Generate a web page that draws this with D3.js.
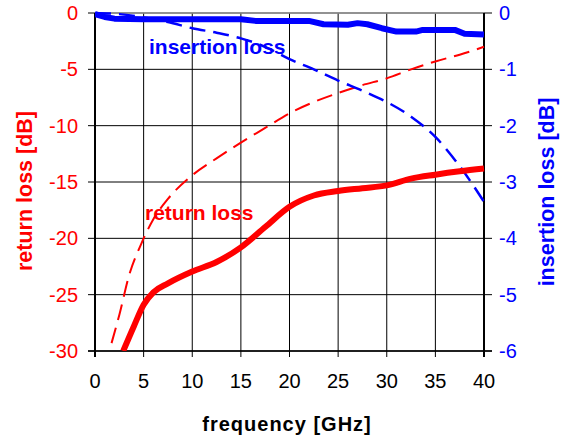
<!DOCTYPE html>
<html><head><meta charset="utf-8">
<script src="https://cdn.jsdelivr.net/npm/d3@7"></script>
<style>body{margin:0;background:#fff}svg{display:block}text{font-family:"Liberation Sans",Arial,sans-serif}</style>
</head><body><svg id="c" width="563" height="442"></svg>
<script>
const xTicks=[0,5,10,15,20,25,30,35,40];
const leftTicks=[0,-5,-10,-15,-20,-25,-30];
const rightTicks=[0,-1,-2,-3,-4,-5,-6];
const rlSolidF=[2.9,4,5,6,7.5,10,12.5,15,17.5,20,22.5,25,27.5,30,32.5,35,37.5,40];
const rlSolidV=[-30,-27.8,-25.9,-24.8,-24,-22.95,-22.1,-20.8,-19,-17.2,-16.2,-15.8,-15.55,-15.3,-14.7,-14.35,-14.05,-13.8];
const rlDashF=[1.7,2.5,3.5,4.8,6,7.5,10,12.5,15,17.5,20,22.5,25,27.5,30,32.5,35,37.5,40];
const rlDashV=[-29.3,-26.8,-23.3,-20.4,-18.3,-16.5,-14.4,-12.9,-11.5,-10.2,-8.9,-7.9,-7.1,-6.4,-5.8,-5.0,-4.3,-3.7,-3.0];
const ilSolidF=[0,1,2,5,10,15,16.5,20,22,23.5,26,27,28,29.5,31,33,33.7,37,38,40];
const ilSolidV=[-0.02,-0.07,-0.1,-0.11,-0.11,-0.11,-0.14,-0.14,-0.14,-0.2,-0.21,-0.18,-0.2,-0.27,-0.33,-0.33,-0.3,-0.3,-0.37,-0.38];
const ilDashF=[0,2.5,5,7.5,10,12.5,15,17.5,20,22.5,25,27.5,30,32.5,35,37.5,40];
const ilDashV=[0,-0.02,-0.08,-0.16,-0.27,-0.35,-0.45,-0.6,-0.82,-1.0,-1.2,-1.38,-1.58,-1.84,-2.2,-2.72,-3.35];

const svg=d3.select("#c");
const L=95,R=484,T=13,B=351;
const x=d3.scaleLinear().domain([0,40]).range([L,R]);
const yL=d3.scaleLinear().domain([-30,0]).range([B,T]);
const yR=d3.scaleLinear().domain([-6,0]).range([B,T]);
const RED="#ff0000",BLUE="#0000ff";

const g=svg.append("g");
// grid
g.selectAll(".vg").data(xTicks).join("line").attr("x1",d=>x(d)).attr("x2",d=>x(d)).attr("y1",T).attr("y2",B+6).attr("stroke","#000").attr("stroke-width",1);
g.selectAll(".hg").data(leftTicks).join("line").attr("x1",L-7).attr("x2",R+8).attr("y1",d=>yL(d)).attr("y2",d=>yL(d)).attr("stroke","#000").attr("stroke-width",1);
g.append("line").attr("x1",L).attr("x2",R).attr("y1",T).attr("y2",T).attr("stroke","#999").attr("stroke-width",1.5);
g.append("line").attr("x1",L).attr("x2",L).attr("y1",T).attr("y2",B+6).attr("stroke","#000").attr("stroke-width",2);
g.append("line").attr("x1",R).attr("x2",R).attr("y1",T).attr("y2",B+6).attr("stroke","#000").attr("stroke-width",2);
g.append("line").attr("x1",L-7).attr("x2",R+8).attr("y1",B).attr("y2",B).attr("stroke","#000").attr("stroke-width",1.5);

// tick labels
g.selectAll(".xl").data(xTicks).join("text").attr("x",d=>x(d)).attr("y",388).attr("text-anchor","middle").attr("font-size",20).attr("fill","#000").text(d=>d);
g.selectAll(".ll").data(leftTicks).join("text").attr("x",78).attr("y",d=>yL(d)+7).attr("text-anchor","end").attr("font-size",20).attr("fill",RED).text(d=>d);
g.selectAll(".rl").data(rightTicks).join("text").attr("x",499).attr("y",d=>yR(d)+7).attr("text-anchor","start").attr("font-size",20).attr("fill",BLUE).text(d=>d);

// axis titles
g.append("text").attr("transform","translate(32,191) rotate(-90)").attr("text-anchor","middle").attr("font-size",21.5).attr("font-weight","bold").attr("fill",RED).text("return loss [dB]");
g.append("text").attr("transform","translate(554,192) rotate(-90)").attr("text-anchor","middle").attr("font-size",21.5).attr("font-weight","bold").attr("fill",BLUE).text("insertion loss [dB]");
g.append("text").attr("x",287).attr("y",431).attr("text-anchor","middle").attr("font-size",20).attr("font-weight","bold").attr("letter-spacing",1).attr("fill","#000").text("frequency [GHz]");

// lines
svg.append("clipPath").attr("id","pc").append("rect").attr("x",L).attr("y",T-4).attr("width",R-L+2).attr("height",B-T+4);
const lineL=d3.line().x(d=>x(d[0])).y(d=>yL(d[1])).curve(d3.curveMonotoneX);
const lineR=d3.line().x(d=>x(d[0])).y(d=>yR(d[1])).curve(d3.curveMonotoneX);
const lineRs=d3.line().x(d=>x(d[0])).y(d=>yR(d[1]));
const pg=svg.append("g").attr("clip-path","url(#pc)");
pg.append("path").attr("d",lineL(d3.zip(rlDashF,rlDashV))).attr("fill","none").attr("stroke",RED).attr("stroke-width",2).attr("stroke-dasharray","16,8");
pg.append("path").attr("d",lineR(d3.zip(ilDashF,ilDashV))).attr("fill","none").attr("stroke",BLUE).attr("stroke-width",2.5).attr("stroke-dasharray","16,8");
pg.append("path").attr("d",lineL(d3.zip(rlSolidF,rlSolidV))).attr("fill","none").attr("stroke",RED).attr("stroke-width",6);
pg.append("path").attr("d",lineRs(d3.zip(ilSolidF,ilSolidV))).attr("fill","none").attr("stroke",BLUE).attr("stroke-width",6).attr("stroke-linejoin","round");

// in-plot labels
svg.append("text").attr("x",149).attr("y",54).attr("font-size",21).attr("font-weight","bold").attr("fill",BLUE).text("insertion loss");
svg.append("text").attr("x",145).attr("y",220).attr("font-size",21).attr("font-weight","bold").attr("fill",RED).text("return loss");
</script></body></html>
